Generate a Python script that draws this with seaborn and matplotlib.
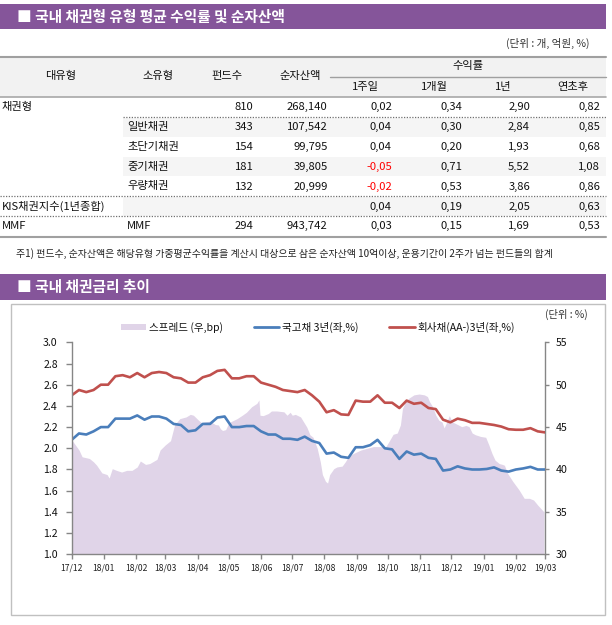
import numpy as np
import pandas as pd
import matplotlib
matplotlib.use('Agg')
import matplotlib.pyplot as plt
import matplotlib.dates as mdates
from matplotlib.patches import Rectangle
from matplotlib.lines import Line2D
import seaborn as sns

sns.set_theme(style='white')
plt.rcParams['font.family'] = ['Noto Sans CJK KR', 'DejaVu Sans']
plt.rcParams['axes.unicode_minus'] = False
plt.rcParams['text.color'] = '#111111'

# ---------------- table data ----------------
big_types = ['채권형', '', '', '', '', 'KIS채권지수(1년종합)', 'MMF']
sub_types = ['', '일반채권', '초단기채권', '중기채권', '우량채권', '', 'MMF']
fund_counts = [810, 343, 154, 181, 132, None, 294]
net_assets = [268140, 107542, 99795, 39805, 20999, None, 943742]
ret_1w = [0.02, 0.04, 0.04, -0.05, -0.02, 0.04, 0.03]
ret_1m = [0.34, 0.30, 0.20, 0.71, 0.53, 0.19, 0.15]
ret_1y = [2.90, 2.84, 1.93, 5.52, 3.86, 2.05, 1.69]
ret_ytd = [0.82, 0.85, 0.68, 1.08, 0.86, 0.63, 0.53]
row_shaded = [False, True, False, True, False, True, False]

# ---------------- chart data ----------------
week_dates = pd.date_range('2017-12-01', '2019-03-01', freq='7D')
gov3y = [2.08, 2.14, 2.13, 2.16, 2.20, 2.20, 2.28, 2.28, 2.28, 2.31, 2.27, 2.30, 2.30,
         2.28, 2.23, 2.22, 2.16, 2.17, 2.23, 2.23, 2.29, 2.30, 2.20, 2.20, 2.21, 2.21,
         2.16, 2.13, 2.13, 2.09, 2.09, 2.08, 2.11, 2.07, 2.05, 1.95, 1.96, 1.92, 1.91,
         2.01, 2.01, 2.03, 2.08, 2.00, 1.99, 1.90, 1.97, 1.94, 1.95, 1.91, 1.90, 1.79,
         1.80, 1.83, 1.81, 1.80, 1.80, 1.805, 1.82, 1.79, 1.78, 1.80, 1.81, 1.825, 1.80, 1.80]
corp3y = [2.50, 2.55, 2.53, 2.55, 2.60, 2.60, 2.68, 2.69, 2.67, 2.71, 2.67, 2.71, 2.72,
          2.71, 2.67, 2.66, 2.62, 2.62, 2.67, 2.69, 2.73, 2.74, 2.66, 2.66, 2.68, 2.68,
          2.62, 2.60, 2.58, 2.55, 2.54, 2.53, 2.55, 2.50, 2.44, 2.34, 2.36, 2.32, 2.315,
          2.45, 2.44, 2.44, 2.50, 2.43, 2.43, 2.38, 2.45, 2.42, 2.43, 2.38, 2.37, 2.27,
          2.245, 2.28, 2.265, 2.24, 2.24, 2.23, 2.22, 2.205, 2.18, 2.175, 2.175, 2.19, 2.16, 2.15]

spread_dates = pd.to_datetime([
    '2017-12-01', '2017-12-08', '2017-12-11', '2017-12-18', '2017-12-22', '2017-12-25',
    '2017-12-30', '2018-01-04', '2018-01-06', '2018-01-09', '2018-01-13', '2018-01-18',
    '2018-01-23', '2018-01-28', '2018-02-02', '2018-02-05', '2018-02-10', '2018-02-14',
    '2018-02-21', '2018-02-24', '2018-03-01', '2018-03-06', '2018-03-10', '2018-03-15',
    '2018-03-21', '2018-03-25', '2018-03-28', '2018-04-02', '2018-04-05', '2018-04-08',
    '2018-04-13', '2018-04-18', '2018-04-21', '2018-04-23', '2018-04-25', '2018-04-28',
    '2018-05-01', '2018-05-04', '2018-05-09', '2018-05-14', '2018-05-18', '2018-05-23',
    '2018-05-28', '2018-05-30', '2018-05-31', '2018-06-03', '2018-06-08', '2018-06-11',
    '2018-06-16', '2018-06-23', '2018-06-26', '2018-06-29', '2018-07-01', '2018-07-04',
    '2018-07-09', '2018-07-12', '2018-07-15', '2018-07-18', '2018-07-21', '2018-07-25',
    '2018-07-28', '2018-07-30', '2018-08-02', '2018-08-04', '2018-08-06', '2018-08-10',
    '2018-08-13', '2018-08-18', '2018-08-21', '2018-08-24', '2018-08-29', '2018-09-05',
    '2018-09-11', '2018-09-17', '2018-09-24', '2018-09-29', '2018-10-02', '2018-10-06',
    '2018-10-10', '2018-10-13', '2018-10-15', '2018-10-18', '2018-10-21', '2018-10-26',
    '2018-10-31', '2018-11-05', '2018-11-08', '2018-11-10', '2018-11-13', '2018-11-16',
    '2018-11-19', '2018-11-22', '2018-11-24', '2018-11-26', '2018-11-29', '2018-12-02',
    '2018-12-07', '2018-12-11', '2018-12-15', '2018-12-18', '2018-12-21', '2018-12-24',
    '2018-12-29', '2019-01-03', '2019-01-06', '2019-01-09', '2019-01-12', '2019-01-16',
    '2019-01-19', '2019-01-21', '2019-01-24', '2019-01-29', '2019-02-04', '2019-02-09',
    '2019-02-14', '2019-02-18', '2019-02-22', '2019-02-25', '2019-02-28'])
spread_bp = [
    43.5, 42.3, 41.5, 41.3, 40.9, 40.5,
    39.6, 39.4, 39.0, 40.1, 39.9, 39.7,
    39.9, 39.9, 40.3, 41.0, 40.6, 40.7,
    41.2, 42.3, 42.9, 43.4, 45.3, 46.0,
    46.2, 46.5, 46.4, 45.8, 45.5, 45.6,
    45.7, 45.3, 45.25, 44.8, 44.6, 44.7,
    45.5, 45.7, 46.0, 46.4, 46.75, 47.4,
    47.8, 48.2, 46.4, 46.35, 46.6, 46.9,
    46.9, 46.8, 46.4, 46.75, 46.4, 46.5,
    46.2, 45.6, 45.0, 44.1, 43.8, 42.5,
    40.9, 39.4, 38.6, 38.4, 39.4, 40.1,
    40.3, 40.4, 40.9, 41.5, 41.9, 42.3,
    42.5, 42.7, 42.7, 42.7, 43.3, 44.15,
    44.3, 45.25, 47.2, 48.0, 48.4, 48.8,
    48.9, 48.8, 48.6, 48.0, 47.4, 46.4,
    45.8, 45.6, 44.9, 45.45, 46.35, 45.6,
    45.3, 45.05, 45.2, 45.05, 44.3, 44.1,
    43.9, 43.8, 42.9, 41.9, 41.1, 40.7,
    40.6, 40.5, 39.55, 38.6, 37.6, 36.6,
    36.6, 36.4, 35.8, 35.4, 35.0]

# ---------------- figure ----------------
W, H = 612, 625
PURPLE = '#85559a'
TXT = '#111111'
fig = plt.figure(figsize=(W / 100, H / 100), dpi=100)
bg = fig.add_axes([0, 0, 1, 1])
bg.set_xlim(0, W)
bg.set_ylim(H, 0)
bg.axis('off')

FS = 8.1
# title bar 1
bg.add_patch(Rectangle((0, 4), 606, 25, color=PURPLE, lw=0))
bg.text(17, 16.5, '■ 국내 채권형 유형 평균 수익률 및 순자산액', color='white',
        fontsize=10.6, fontweight='bold', va='center', ha='left')
bg.text(589, 43.5, '(단위 : 개, 억원, %)', fontsize=7.6, ha='right', va='center', color='#333333')

# header
bg.add_patch(Rectangle((0, 57), 606, 39.5, color='#f2f2f2', lw=0))
bg.plot([0, 606], [57, 57], color='#a0a0a0', lw=1.5)
bg.plot([330, 606], [76.7, 76.7], color='#a0a0a0', lw=1)
bg.plot([0, 606], [96.5, 96.5], color='#a8a8a8', lw=1.2)
for txt, x in [('대유형', 60.5), ('소유형', 158), ('펀드수', 227), ('순자산액', 300)]:
    bg.text(x, 76, txt, fontsize=FS, ha='center', va='center', color=TXT)
bg.text(468, 66.5, '수익률', fontsize=FS, ha='center', va='center', color=TXT)
for txt, x in [('1주일', 365), ('1개월', 434), ('1년', 503), ('연초후', 573)]:
    bg.text(x, 87, txt, fontsize=FS, ha='center', va='center', color=TXT)

row_y = [107, 127.3, 147, 166.7, 186.5, 206.5, 226]
for i, y in enumerate(row_y):
    if row_shaded[i]:
        bg.add_patch(Rectangle((123, y - 9.8), 483, 19.6, color='#f5f5f5', lw=0, zorder=0))
bg.plot([123, 606], [116.8, 116.8], color='#707070', lw=0.9, ls=(0, (1, 1.2)))
bg.plot([0, 606], [196.3, 196.3], color='#707070', lw=0.9, ls=(0, (1, 1.2)))
bg.plot([0, 606], [216.2, 216.2], color='#707070', lw=0.9, ls=(0, (1, 1.2)))
bg.plot([0, 606], [236.5, 236.5], color='#a0a0a0', lw=1.5)


def fmt_ret(v):
    return f'{v:.2f}'.replace('.', ',')


for i, y in enumerate(row_y):
    bg.text(2, y, big_types[i], fontsize=FS, ha='left', va='center', color=TXT)
    bg.text(127, y, sub_types[i], fontsize=FS, ha='left', va='center', color=TXT)
    if fund_counts[i] is not None:
        bg.text(253.5, y, f'{fund_counts[i]:,}', fontsize=FS, ha='right', va='center', color=TXT)
    if net_assets[i] is not None:
        bg.text(327.5, y, f'{net_assets[i]:,}', fontsize=FS, ha='right', va='center', color=TXT)
    bg.text(392, y, fmt_ret(ret_1w[i]), fontsize=FS, ha='right', va='center',
            color='#ff0000' if ret_1w[i] < 0 else TXT)
    bg.text(462, y, fmt_ret(ret_1m[i]), fontsize=FS, ha='right', va='center', color=TXT)
    bg.text(530, y, fmt_ret(ret_1y[i]), fontsize=FS, ha='right', va='center', color=TXT)
    bg.text(600, y, fmt_ret(ret_ytd[i]), fontsize=FS, ha='right', va='center', color=TXT)

bg.text(15.5, 253.5, '주1) 펀드수, 순자산액은 해당유형 가중평균수익률을 계산시 대상으로 삼은 순자산액 10억이상, 운용기간이 2주가 넘는 펀드들의 합계',
        fontsize=7.15, ha='left', va='center', color='#222222')

# title bar 2
bg.add_patch(Rectangle((0, 274), 606, 25.7, color=PURPLE, lw=0))
bg.text(17, 287, '■ 국내 채권금리 추이', color='white', fontsize=10.6,
        fontweight='bold', va='center', ha='left')
# chart frame
bg.add_patch(Rectangle((10.5, 303.5), 594.5, 311.5, fill=False, ec='#c0c0c0', lw=1))
bg.text(588, 314, '(단위 : %)', fontsize=7.4, ha='right', va='center', color='#333333')

# ---------------- chart ----------------
ax = fig.add_axes([71.7 / W, 1 - 554.3 / H, (545 - 71.7) / W, (554.3 - 342.3) / H])
ax2 = ax.twinx()
SPREAD_C = '#e0d4e8'
BLUE = '#4a7ebb'
RED = '#c0504d'
ax2.fill_between(spread_dates, spread_bp, 30, color=SPREAD_C, lw=0)
ax.set_zorder(ax2.get_zorder() + 1)
ax.patch.set_visible(False)

df = pd.DataFrame({'date': week_dates, 'gov': gov3y, 'corp': corp3y})
sns.lineplot(data=df, x='date', y='gov', ax=ax, color=BLUE, lw=1.9)
sns.lineplot(data=df, x='date', y='corp', ax=ax, color=RED, lw=1.9)

ax.set_xlim(pd.Timestamp('2017-12-01'), pd.Timestamp('2019-03-01'))
ax.set_ylim(1.0, 3.0)
ax.set_yticks(np.round(np.arange(1.0, 3.01, 0.2), 1))
ax.yaxis.set_major_formatter(matplotlib.ticker.FormatStrFormatter('%.1f'))
ax2.set_ylim(30, 55)
ax2.set_yticks([30, 35, 40, 45, 50, 55])
ax.xaxis.set_major_locator(mdates.MonthLocator())
ax.xaxis.set_major_formatter(mdates.DateFormatter('%y/%m'))
ax.set_xlabel('')
ax.set_ylabel('')
ax2.set_ylabel('')

SPC = '#868686'
for a in (ax, ax2):
    a.spines['top'].set_visible(False)
    for s in ('left', 'right', 'bottom'):
        a.spines[s].set_color(SPC)
        a.spines[s].set_linewidth(1)
    a.grid(False)
ax.spines['right'].set_visible(False)
ax2.spines['left'].set_visible(False)
ax2.spines['bottom'].set_visible(False)

ax.tick_params(axis='y', left=True, direction='out', length=4, width=1, color=SPC,
               labelsize=7.6, pad=6, labelcolor=TXT)
ax.tick_params(axis='x', bottom=True, direction='out', length=3.5, width=1, color=SPC,
               labelsize=6.2, pad=3, labelcolor='#222222')
ax2.tick_params(axis='y', right=True, direction='out', length=3, width=1, color=SPC,
                labelsize=7.6, pad=5, labelcolor=TXT)

handles = [Rectangle((0, 0), 1, 1, color=SPREAD_C, lw=0),
           Line2D([], [], color=BLUE, lw=2),
           Line2D([], [], color=RED, lw=2)]
labels = ['스프레드 (우,bp)', '국고채 3년(좌,%)', '회사채(AA-)3년(좌,%)']
fig.legend(handles, labels, loc='center', bbox_to_anchor=(318 / W, 1 - 327.5 / H),
           ncol=3, frameon=False, fontsize=7.6, handlelength=2.4, handletextpad=0.3,
           columnspacing=2.9, handleheight=0.55, labelcolor=TXT)

fig.savefig('out.png', dpi=100)
